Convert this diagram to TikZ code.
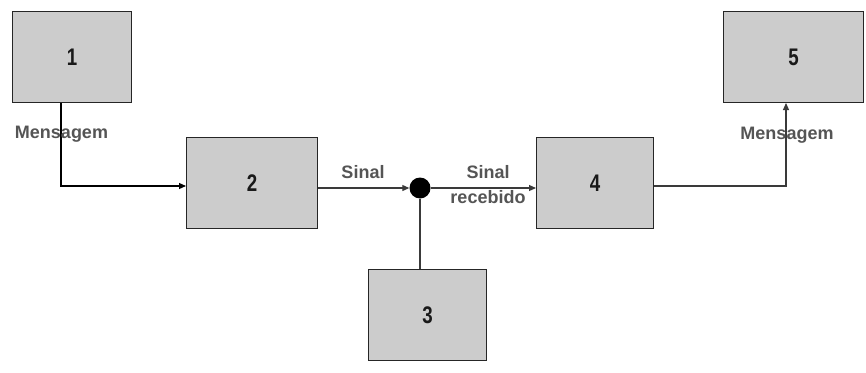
\documentclass[tikz,border=0pt]{standalone}
\usepackage{fontspec}
\setmainfont{Liberation Sans}
\usetikzlibrary{arrows.meta}
\definecolor{boxgray}{HTML}{CCCCCC}
\definecolor{labgray}{HTML}{555555}
\definecolor{linegray}{HTML}{3A3A3A}
\tikzset{
  blk/.style={draw=black!85, line width=1pt, fill=boxgray, inner sep=0pt, anchor=north west},
  num/.style={font=\bfseries\fontsize{24}{24}\selectfont, text=black!90, xscale=0.78},
  lab/.style={font=\bfseries\fontsize{18}{25}\selectfont, text=labgray, align=center, inner sep=0pt},
  conn/.style={draw=linegray, line width=1.1pt},
  arr/.style={conn, -{Triangle[length=7pt,width=6pt]}}
}
\begin{document}
\begin{tikzpicture}[x=1pt,y=-1pt]
\useasboundingbox (0,0) rectangle (866,372);
\fill[white] (0,0) rectangle (866,372);
% boxes
\node[blk, minimum width=119pt, minimum height=91pt] (b1) at (12,11) {};
\node[blk, minimum width=131pt, minimum height=91pt] (b2) at (186,137) {};
\node[blk, minimum width=118pt, minimum height=91pt] (b3) at (368,269) {};
\node[blk, minimum width=117pt, minimum height=91pt] (b4) at (536,137) {};
\node[blk, minimum width=140pt, minimum height=91pt] (b5) at (723,11) {};
\node[num] (t1) at (b1.center) {1};
\node[num] (t2) at (b2.center) {2};
\node[num] (t3) at (b3.center) {3};
\node[num] (t4) at (b4.center) {4};
\node[num] (t5) at (b5.center) {5};
% summing junction
\node[circle, fill=black, minimum size=21pt, inner sep=0pt] (j) at (420,188) {};
% coordinates
\coordinate (c1) at (61,186);
\coordinate (c4) at (786,186);
% connectors
\draw[arr, draw=black] (b1.south -| c1) -- (c1) -- (c1 -| b2.west);
\draw[arr] (b2.east |- j) -- (j.west);
\draw[arr] (j.east) -- (j -| b4.west);
\draw[conn] (j.south) -- (j |- b3.north);
\draw[arr] (c4 -| b4.east) -- (c4) -- (c4 |- b5.south);
% labels
\node[lab] (m1) at (61.5,134) {Mensagem};
\node[lab] (m2) at (787,135) {Mensagem};
\node[lab] (s1) at (363,172) {Sinal};
\node[lab, anchor=center] (s2) at (488,185) {Sinal\\recebido};
\end{tikzpicture}
\end{document}
